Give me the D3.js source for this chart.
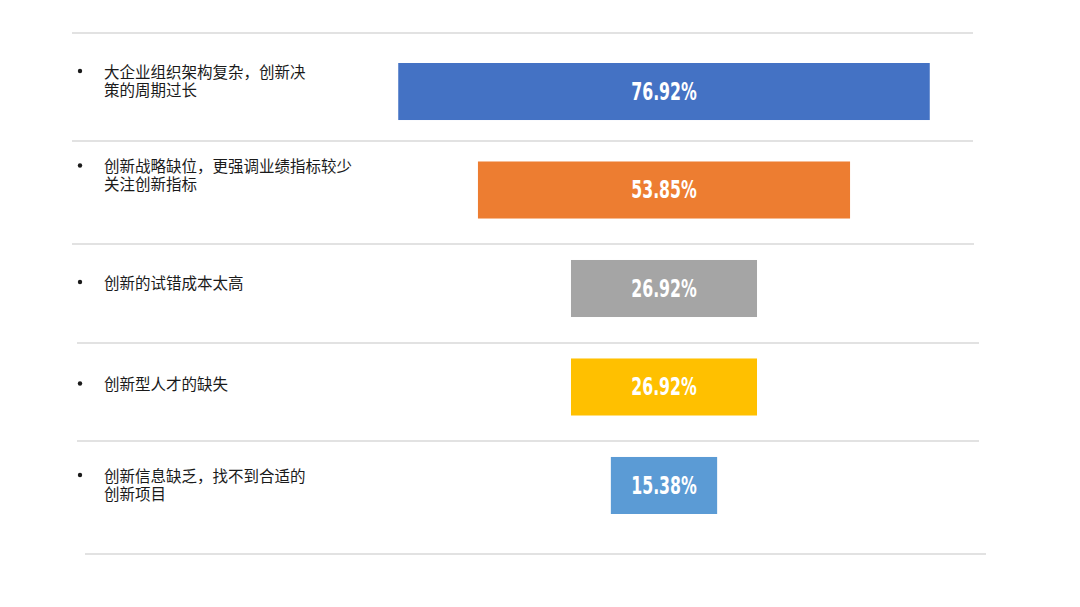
<!DOCTYPE html>
<html>
<head>
<meta charset="utf-8">
<script src="https://cdn.jsdelivr.net/npm/d3@7"></script>
<style>
	body { margin: 0; background: #fff; }
	.label { font-family: "Microsoft YaHei", "Noto Sans CJK SC", sans-serif; font-size: 15.5px; fill: #1a1a1a; }
	.value { font-family: "DejaVu Sans", sans-serif; font-weight: bold; font-size: 25px; fill: #fff; }
</style>
</head>
<body>
<div id="chart"></div>
<script>
// chart data
var categories = ["r1", "r2", "r3", "r4", "r5"];
var labels = [
	["大企业组织架构复杂，创新决", "策的周期过长"],
	["创新战略缺位，更强调业绩指标较少", "关注创新指标"],
	["创新的试错成本太高"],
	["创新型人才的缺失"],
	["创新信息缺乏，找不到合适的", "创新项目"]
];
var values = [76.92, 53.85, 26.92, 26.92, 15.38];
var colors = ["#4472C4", "#ED7D31", "#A5A5A5", "#FFC000", "#5B9BD5"];

// layout
var width = 1080, height = 607;
var centerX = 664;
var labelDy = [8, 4, 22, 25, 18];
var separators = [
	{ y: 33, x1: 72, x2: 973 },
	{ y: 141, x1: 72, x2: 973 },
	{ y: 244, x1: 72, x2: 974 },
	{ y: 343, x1: 77, x2: 979 },
	{ y: 441, x1: 77, x2: 979 },
	{ y: 554, x1: 85, x2: 986 }
];

var svg = d3.select("#chart")
	.append("svg")
	.attr("width", width)
	.attr("height", height);

var x = d3.scaleLinear()
	.domain([0, 100])
	.range([0, 691]);

var y = d3.scaleBand()
	.domain(categories)
	.range([63, 514])
	.paddingInner(0.421)
	.paddingOuter(0);

// separator lines
svg.append("g")
	.selectAll("line")
	.data(separators)
	.enter().append("line")
	.attr("x1", function(d) { return d.x1; })
	.attr("x2", function(d) { return d.x2; })
	.attr("y1", function(d) { return d.y; })
	.attr("y2", function(d) { return d.y; })
	.attr("stroke", "#d9d9d9")
	.attr("stroke-width", 1.5);

// bars
svg.append("g")
	.selectAll("rect")
	.data(values)
	.enter().append("rect")
	.attr("x", function(d) { return centerX - x(d) / 2; })
	.attr("y", function(d, i) { return y(categories[i]); })
	.attr("width", function(d) { return x(d); })
	.attr("height", y.bandwidth())
	.attr("fill", function(d, i) { return colors[i]; });

// value labels, squeezed to look condensed
svg.append("g")
	.selectAll("text")
	.data(values)
	.enter().append("text")
	.attr("class", "value")
	.attr("transform", function(d, i) {
		return "translate(" + centerX + "," + (y(categories[i]) + y.bandwidth() / 2) + ") scale(0.63,1)";
	})
	.attr("text-anchor", "middle")
	.attr("dominant-baseline", "central")
	.text(function(d) { return d.toFixed(2) + "%"; });

// category labels with bullets
var rows = svg.append("g")
	.selectAll("g")
	.data(labels)
	.enter().append("g")
	.attr("transform", function(d, i) {
		return "translate(0," + (y(categories[i]) + labelDy[i]) + ")";
	});

rows.append("circle")
	.attr("cx", 80)
	.attr("cy", 0)
	.attr("r", 2.2)
	.attr("fill", "#1a1a1a");

rows.selectAll("text")
	.data(function(d) { return d; })
	.enter().append("text")
	.attr("class", "label")
	.attr("x", 104)
	.attr("y", function(d, j) { return j * 18; })
	.attr("dominant-baseline", "central")
	.text(function(d) { return d; });
</script>
</body>
</html>
